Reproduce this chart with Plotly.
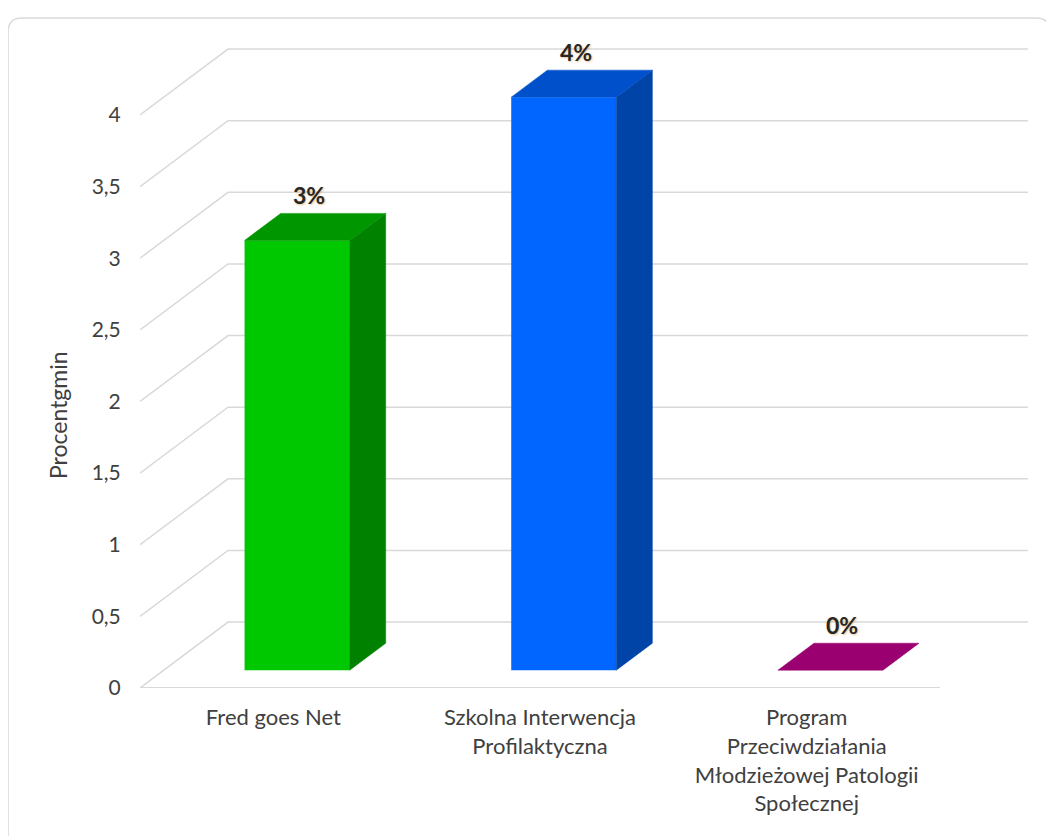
import plotly.graph_objects as go

# ---------------- data ----------------
categories = [
    "Fred goes Net",
    "Szkolna Interwencja<br>Profilaktyczna",
    "Program<br>Przeciwdziałania<br>Młodzieżowej Patologii<br>Społecznej",
]
values = [3, 4, 0]
value_labels = ["3%", "4%", "0%"]
ytick_vals = [0, 0.5, 1, 1.5, 2, 2.5, 3, 3.5, 4]
ytick_text = ["0", "0,5", "1", "1,5", "2", "2,5", "3", "3,5", "4"]
y_title = "Procentgmin"

front_colors = ["#00C800", "#0066FF", "#9B0071"]
top_colors = ["#009600", "#0050CC", "#9B0071"]
side_colors = ["#008200", "#0044A8", "#80005E"]

# ---------------- 3D projection settings ----------------
DX = 0.33      # depth offset in category units
DY = 0.46      # depth offset in value units
D0, D1 = 0.27, 0.68   # bar depth span
W = 0.394      # bar width (category units)
N = len(categories)

OFF = 8  # page body margin
W_PX, H_PX = 1054, 836
# desired page positions of the plot area
PL, PR, PT, PB = 140, 1028, 29, 688
ML = PL - OFF
MT = PT - OFF
MR = W_PX - (PR - OFF)
MB = H_PX - (PB - OFF)
X_RANGE = [0, N + DX]
Y_RANGE = [0, 4.6]

FONT = "Lato, 'Open Sans', Arial, sans-serif"
GRID = "#d9d9d9"
TXT = "#404040"

fig = go.Figure()

# front faces as bars
xc = [i + 0.5 + D0 * DX for i in range(N)]
fig.add_trace(go.Bar(
    x=xc, y=values, base=[D0 * DY] * N, width=W,
    marker=dict(color=front_colors, line=dict(width=0)),
    hoverinfo="skip", showlegend=False,
))

# top and side faces
for i, v in enumerate(values):
    xl = xc[i] - W / 2
    xr = xc[i] + W / 2
    ddx = (D1 - D0) * DX
    yf = v + D0 * DY
    yb = v + D1 * DY
    if v > 0:
        fig.add_trace(go.Scatter(
            x=[xr, xr, xr + ddx, xr + ddx, xr],
            y=[D0 * DY, yf, yb, D1 * DY, D0 * DY],
            fill="toself", fillcolor=side_colors[i], mode="lines",
            line=dict(width=0.5, color=side_colors[i]),
            hoverinfo="skip", showlegend=False,
        ))
    fig.add_trace(go.Scatter(
        x=[xl, xr, xr + ddx, xl + ddx, xl],
        y=[yf, yf, yb, yb, yf],
        fill="toself", fillcolor=top_colors[i], mode="lines",
        line=dict(width=0.5, color=top_colors[i]),
        hoverinfo="skip", showlegend=False,
    ))
    fig.add_annotation(
        x=xc[i] + 0.045, y=yb, xref="x", yref="y",
        text="<b>%s</b>" % value_labels[i], showarrow=False,
        yanchor="bottom", yshift=2,
        font=dict(family=FONT, size=23, color="#262626",
                  shadow="1px 1px 2px rgba(220,150,60,0.55)"),
    )

# gridlines (diagonal + back wall) as shapes below
for v in ytick_vals:
    fig.add_shape(
        type="path", xref="x", yref="y", layer="below",
        path="M 0,%g L %g,%g L %g,%g" % (v, DX, v + DY, N + DX, v + DY),
        line=dict(color=GRID, width=1.5),
    )
fig.add_shape(type="line", xref="x", yref="y", layer="below",
              x0=0, y0=0, x1=N, y1=0, line=dict(color=GRID, width=2))

# page-pixel -> paper conversion
pw = PR - PL
ph = PB - PT


def px2paper(px, py):
    return (px - PL) / pw, (PB - py) / ph


# rounded chart border
x0, y0 = px2paper(8, 18)
x1, y1 = px2paper(1050, 860)
rx, ry = 14 / pw, 14 / ph
path = (
    f"M {x0 + rx},{y0} L {x1 - rx},{y0} Q {x1},{y0} {x1},{y0 - ry} "
    f"L {x1},{y1 + ry} Q {x1},{y1} {x1 - rx},{y1} L {x0 + rx},{y1} "
    f"Q {x0},{y1} {x0},{y1 + ry} L {x0},{y0 - ry} Q {x0},{y0} {x0 + rx},{y0} Z"
)
fig.add_shape(type="path", xref="paper", yref="paper", path=path,
              line=dict(color="#d9d9d9", width=1.5), layer="below")

# y-axis title
tx, ty = px2paper(58, 415)
fig.add_annotation(x=tx, y=ty, xref="paper", yref="paper", text=y_title,
                   textangle=-90, showarrow=False, xanchor="center", yanchor="middle",
                   font=dict(family=FONT, size=23, color=TXT))

fig.update_layout(
    width=W_PX, height=H_PX,
    margin=dict(l=ML, r=MR, t=MT, b=MB),
    paper_bgcolor="white", plot_bgcolor="rgba(0,0,0,0)",
    font=dict(family=FONT, color=TXT, size=21),
    showlegend=False,
    xaxis=dict(
        range=X_RANGE, showgrid=False, zeroline=False, showline=False,
        tickmode="array", tickvals=[i + 0.5 for i in range(N)], ticktext=categories,
        ticks="outside", ticklen=10, tickcolor="rgba(0,0,0,0)",
        tickfont=dict(family=FONT, size=22, color=TXT), fixedrange=True,
    ),
    yaxis=dict(
        range=Y_RANGE, showgrid=False, zeroline=False, showline=False,
        tickmode="array", tickvals=ytick_vals, ticktext=ytick_text,
        ticks="outside", ticklen=14, tickcolor="rgba(0,0,0,0)",
        tickfont=dict(family=FONT, size=21, color=TXT),
        fixedrange=True,
    ),
)

fig.write_html("out.html")
